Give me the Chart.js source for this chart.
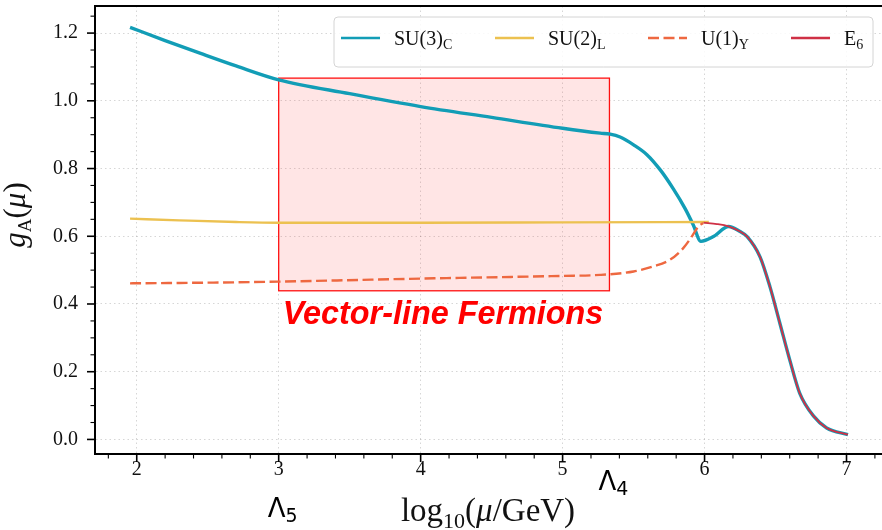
<!DOCTYPE html>
<html>
<head>
<meta charset="utf-8">
<script src="https://cdn.jsdelivr.net/npm/chart.js@4.4.0/dist/chart.umd.min.js"></script>
<style>
  html, body { margin: 0; padding: 0; background: #fff; }
  #wrap { width: 882px; height: 530px; }
</style>
</head>
<body>
<div id="wrap"><canvas id="chart" width="882" height="530"></canvas></div>
<script>
// log10(mu/GeV) on x, gauge couplings on y
const su3X = [1.953, 2.2, 2.45, 2.7, 3.0, 3.5, 4.0, 4.5, 5.0, 5.265, 5.335, 5.405, 5.5, 5.594, 5.688, 5.78, 5.864, 5.92, 5.974, 6.063];
const su3Y = [1.217, 1.178, 1.140, 1.103, 1.062, 1.021, 0.983, 0.951, 0.919, 0.9045, 0.9015, 0.893, 0.870, 0.841, 0.796, 0.740, 0.681, 0.634, 0.585, 0.599];

const su2X = [1.953, 2.3, 2.7, 3.0, 4.0, 5.0, 6.03];
const su2Y = [0.652, 0.647, 0.642, 0.640, 0.640, 0.641, 0.642];

const u1X = [1.953, 2.5, 3.0, 4.0, 5.0, 5.265, 5.5, 5.64, 5.758, 5.85, 5.91, 5.957, 5.99];
const u1Y = [0.461, 0.463, 0.466, 0.475, 0.483, 0.486, 0.496, 0.511, 0.531, 0.565, 0.599, 0.629, 0.639];

const e6X = [5.993, 6.087];
const e6Y = [0.640, 0.636];

// above ~6.17 the SU(3) coupling coincides with E6
const jointX = [6.169, 6.25, 6.30, 6.39, 6.46, 6.53, 6.60, 6.67, 6.77, 6.86, 7.01];
const jointY = [0.629, 0.614, 0.599, 0.540, 0.452, 0.344, 0.235, 0.137, 0.068, 0.034, 0.014];

const seriesNames = ['SU(3)', 'SU(2)', 'U(1)', 'E'];
const seriesSubs = ['C', 'L', 'Y', '6'];
const seriesColors = ['#129db6', '#ecc150', '#ee6840', '#cf3045'];

const xTicks = [2, 3, 4, 5, 6, 7];
const yTicks = [0.0, 0.2, 0.4, 0.6, 0.8, 1.0, 1.2];

const boxX = [3.0, 5.33];
const boxY = [0.439, 1.067];
const boxLabel = 'Vector-line Fermions';
const lambdaMarks = [
    { sub: '5', x: 3.0 },
    { sub: '4', x: 5.33 }
];

const SERIF = '"Liberation Serif", "DejaVu Serif", serif';

function pts(xs, ys) {
    return xs.map((x, i) => ({ x: x, y: ys[i] }));
}

// draw "base" + subscript pieces, returns total width
function subText(ctx, parts, x, y, measureOnly) {
    let cx = x;
    parts.forEach(p => {
        ctx.font = p.font;
        const w = ctx.measureText(p.t).width;
        if (!measureOnly) ctx.fillText(p.t, cx, y + (p.dy || 0));
        cx += w;
    });
    return cx - x;
}

const decorPlugin = {
    id: 'decor',
    beforeDatasetsDraw(chart) {
        const { ctx, scales: { x, y } } = chart;
        const x0 = x.getPixelForValue(boxX[0]), x1 = x.getPixelForValue(boxX[1]);
        const y0 = y.getPixelForValue(boxY[1]), y1 = y.getPixelForValue(boxY[0]);
        ctx.save();
        ctx.fillStyle = 'rgba(255, 0, 0, 0.1)';
        ctx.fillRect(x0, y0, x1 - x0, y1 - y0);
        ctx.strokeStyle = '#ff1010';
        ctx.lineWidth = 1.3;
        ctx.strokeRect(x0, y0, x1 - x0, y1 - y0);
        ctx.restore();
    },
    afterDatasetsDraw(chart) {
        const { ctx, scales: { x, y } } = chart;
        ctx.save();

        // handwritten label under the box
        ctx.fillStyle = '#ff0000';
        let fs = 24;
        ctx.font = `italic bold ${fs}px "Liberation Sans", sans-serif`;
        const target = x.getPixelForValue(boxX[1]) - x.getPixelForValue(boxX[0]) - 10;
        fs = fs * target / ctx.measureText(boxLabel).width;
        ctx.font = `italic bold ${fs}px "Liberation Sans", sans-serif`;
        ctx.textBaseline = 'alphabetic';
        ctx.fillText(boxLabel, x.getPixelForValue(boxX[0]) + 4, y.getPixelForValue(0.34));

        // legend
        const lx = 334, ly = 17, lw = 539, lh = 50;
        ctx.beginPath();
        ctx.roundRect(lx, ly, lw, lh, 4);
        ctx.fillStyle = 'rgba(255,255,255,0.85)';
        ctx.fill();
        ctx.strokeStyle = '#d4d4d4';
        ctx.lineWidth = 1;
        ctx.stroke();

        const itemX = [341, 495, 648, 791];
        itemX.forEach((ix, i) => {
            ctx.strokeStyle = seriesColors[i];
            ctx.lineWidth = 2.4;
            ctx.setLineDash(i === 2 ? [11, 4.5] : []);
            ctx.beginPath();
            ctx.moveTo(ix, 38);
            ctx.lineTo(ix + 39, 38);
            ctx.stroke();
            ctx.setLineDash([]);
            ctx.fillStyle = '#111';
            subText(ctx, [
                { t: seriesNames[i], font: `20px ${SERIF}` },
                { t: seriesSubs[i], font: `14px ${SERIF}`, dy: 4 }
            ], ix + 53, 45);
        });
        ctx.restore();
    },
    afterDraw(chart) {
        const { ctx, chartArea: ca, scales: { x, y } } = chart;
        ctx.save();
        ctx.strokeStyle = '#000';

        // top spine
        ctx.lineWidth = 2;
        ctx.beginPath();
        ctx.moveTo(ca.left - 1, ca.top);
        ctx.lineTo(ca.right, ca.top);
        ctx.stroke();

        // major + minor ticks, matplotlib style (outside)
        for (let v = 1.8; v <= 7.21; v += 0.2) {
            const px = x.getPixelForValue(v);
            const major = Math.abs(v - Math.round(v)) < 1e-6;
            ctx.lineWidth = major ? 1.6 : 1.1;
            ctx.beginPath();
            ctx.moveTo(px, ca.bottom);
            ctx.lineTo(px, ca.bottom + (major ? 8 : 4.5));
            ctx.stroke();
        }
        for (let k = 0; k <= 25; k++) {
            const v = k * 0.05;
            const py = y.getPixelForValue(v);
            const major = k % 4 === 0;
            ctx.lineWidth = major ? 1.6 : 1.1;
            ctx.beginPath();
            ctx.moveTo(ca.left, py);
            ctx.lineTo(ca.left - (major ? 8 : 4.5), py);
            ctx.stroke();
        }

        ctx.fillStyle = '#111';
        ctx.textBaseline = 'alphabetic';

        // x title: log10(mu/GeV)
        const xParts = [
            { t: 'log', font: `33px ${SERIF}` },
            { t: '10', font: `22px ${SERIF}`, dy: 7 },
            { t: '(', font: `33px ${SERIF}` },
            { t: 'μ', font: `italic 33px ${SERIF}` },
            { t: '/GeV)', font: `33px ${SERIF}` }
        ];
        const xw = subText(ctx, xParts, 0, 0, true);
        subText(ctx, xParts, 488 - xw / 2, 521);

        // y title: g_A(mu)
        const yParts = [
            { t: 'g', font: `italic 31px ${SERIF}` },
            { t: 'A', font: `19px ${SERIF}`, dy: 6 },
            { t: '(', font: `31px ${SERIF}` },
            { t: 'μ', font: `italic 31px ${SERIF}` },
            { t: ')', font: `31px ${SERIF}` }
        ];
        const yw = subText(ctx, yParts, 0, 0, true);
        ctx.save();
        ctx.translate(25, 215);
        ctx.rotate(-Math.PI / 2);
        subText(ctx, yParts, -yw / 2, 0);
        ctx.restore();

        // hand-drawn scale marks below the axis
        ctx.fillStyle = '#000';
        lambdaMarks.forEach((m, i) => {
            const px = x.getPixelForValue(m.x);
            const base = i === 0 ? 517 : 490;
            subText(ctx, [
                { t: 'Λ', font: `26px "DejaVu Sans", sans-serif` },
                { t: m.sub, font: `19px "DejaVu Sans", sans-serif`, dy: 5 }
            ], px - 11, base);
        });
        ctx.restore();
    }
};

const gridColor = 'rgba(0,0,0,0.16)';

new Chart(document.getElementById('chart'), {
    type: 'line',
    data: {
        datasets: [
            {
                label: 'E6',
                data: pts(e6X.concat(jointX), e6Y.concat(jointY)),
                borderColor: seriesColors[3],
                borderWidth: 1.8,
                order: 0
            },
            {
                label: 'U(1)Y',
                data: pts(u1X, u1Y),
                borderColor: seriesColors[2],
                borderWidth: 2.4,
                borderDash: [11, 4.5],
                order: 1
            },
            {
                label: 'SU(2)L',
                data: pts(su2X, su2Y),
                borderColor: seriesColors[1],
                borderWidth: 2.4,
                order: 2
            },
            {
                label: 'SU(3)C',
                data: pts(su3X.concat(jointX), su3Y.concat(jointY)),
                borderColor: seriesColors[0],
                borderWidth: 3.4,
                order: 3
            }
        ]
    },
    options: {
        responsive: false,
        animation: false,
        devicePixelRatio: 1,
        layout: { autoPadding: false, padding: { top: 6, right: 0, left: 0, bottom: 0 } },
        elements: {
            point: { radius: 0 },
            line: { cubicInterpolationMode: 'monotone', fill: false }
        },
        plugins: {
            legend: { display: false },
            tooltip: { enabled: false }
        },
        scales: {
            x: {
                type: 'linear',
                min: 1.706,
                max: 7.25,
                afterFit: s => { s.height = 76; s.paddingLeft = 0; s.paddingRight = 0; },
                afterBuildTicks: s => { s.ticks = xTicks.map(v => ({ value: v })); },
                ticks: {
                    padding: 4,
                    color: '#111',
                    font: { family: SERIF, size: 20 },
                    callback: v => String(v)
                },
                grid: { color: gridColor, lineWidth: 1, drawTicks: false },
                border: { display: true, color: '#000', width: 2, dash: [1.5, 3] }
            },
            y: {
                type: 'linear',
                min: -0.043,
                max: 1.28,
                afterFit: s => { s.width = 95; s.paddingTop = 0; s.paddingBottom = 0; },
                afterBuildTicks: s => { s.ticks = yTicks.map(v => ({ value: v })); },
                ticks: {
                    padding: 17,
                    color: '#111',
                    font: { family: SERIF, size: 20 },
                    callback: v => v.toFixed(1)
                },
                grid: { color: gridColor, lineWidth: 1, drawTicks: false },
                border: { display: true, color: '#000', width: 2, dash: [1.5, 3] }
            }
        }
    },
    plugins: [decorPlugin]
});
</script>
</body>
</html>
